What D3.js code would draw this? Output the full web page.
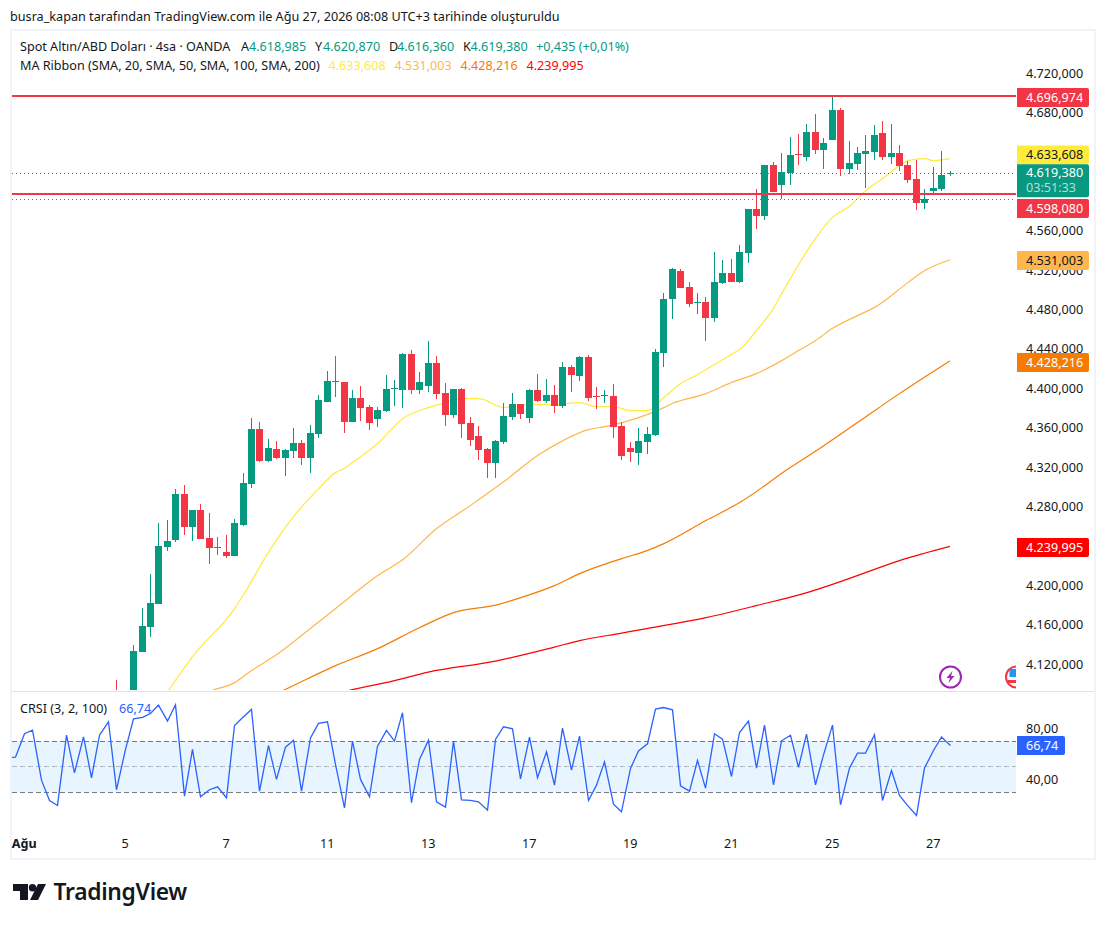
<!DOCTYPE html>
<meta charset="utf-8">
<script src="https://cdn.jsdelivr.net/npm/d3@7/dist/d3.min.js"></script>
<style>
  html, body { margin: 0; background: #fff; }
  svg { display: block; }
  text { font-family: "Noto Sans", "Open Sans", sans-serif; }
</style>
<svg width="1106" height="925"></svg>
<script>
// bar index of the first candle, bars are 4h, 6 per day
var firstBar = 13;
var opens = [
  4090,4060,4080,4133.2,4158.6,4182.0,4239.8,4246.9,4293.6,4260.1,
  4277.4,4248.9,4239.0,4234.7,4230.7,4262.1,4303.8,4359.6,4327.1,4339.3,
  4330.2,4337.3,4345.4,4330.2,4354.5,4387.0,4408.3,4407.3,4366.7,4391.1,
  4381.9,4369.8,4377.9,4399.8,4399.2,4435.7,4399.2,4403.2,4426.6,4396.1,
  4373.8,4400.2,4365.7,4352.5,4339.3,4325.1,4346.4,4371.8,4385.0,4370.8,
  4399.2,4388.0,4394.1,4382.9,4422.5,4413.4,4432.7,4392.5,4392.5,4393.1,
  4362.6,4340.3,4335.2,4346.4,4353.5,4436.8,4491.6,4520.0,4503.8,4487.0,
  4488.5,4472.3,4507.8,4518.0,4508.8,4538.3,4582.9,4575.8,4627.6,4607.3,
  4619.5,4638.2,4635.7,4661.1,4642.8,4653.0,4683.4,4623.6,4628.6,4638.8,
  4640.8,4660.1,4635.7,4639.8,4627.6,4613.4,4589.0,4601.2,4603.2,4618.985
];
var highs = [
  4104.8,4085,4140.3,4177.9,4212.4,4264.2,4267.2,4298.7,4302.7,4277.4,
  4283.4,4274.3,4249.9,4252.0,4268.2,4314.9,4370.8,4366.7,4349.4,4347.4,
  4339.3,4360.6,4348.4,4363.6,4394.1,4418.5,4433.7,4407.3,4399.2,4403.2,
  4384.0,4381.9,4414.4,4409.3,4436.8,4439.8,4417.5,4448.9,4433.7,4406.3,
  4400.2,4401.2,4371.8,4362.6,4340.3,4348.4,4386.0,4396.1,4385.0,4400.2,
  4415.4,4410.3,4404.2,4427.6,4424.6,4433.7,4434.7,4402.2,4399.2,4405.3,
  4366.7,4346.4,4360.6,4361.6,4440.8,4497.7,4523.0,4522.0,4508.8,4497.7,
  4493.6,4539.3,4531.2,4532.2,4546.4,4582.9,4603.2,4627.6,4630.6,4639.8,
  4656.0,4659.1,4669.2,4679.4,4655.0,4696.5,4685.5,4652.0,4645.9,4658.1,
  4668.2,4672.3,4669.2,4647.9,4631.7,4632.7,4603.2,4625.6,4641.8,4620.87
];
var lows = [
  4050,4050,4065,4133.2,4148.4,4182.0,4235.7,4244.9,4252.0,4245.9,
  4247.9,4222.6,4231.7,4228.6,4230.7,4261.1,4299.7,4326.1,4326.1,4329.1,
  4311.9,4330.2,4323.0,4314.9,4350.5,4387.0,4392.1,4355.5,4366.7,4367.7,
  4358.6,4361.6,4376.9,4382.9,4380.9,4395.1,4395.1,4397.2,4390.1,4362.6,
  4370.8,4350.5,4342.3,4328.1,4309.8,4309.8,4344.4,4368.7,4369.8,4365.7,
  4387.0,4386.0,4375.8,4380.9,4397.2,4408.3,4388.0,4379.9,4386.0,4350.5,
  4328.1,4326.1,4323.0,4334.2,4352.5,4422.5,4471.2,4502.7,4483.4,4476.3,
  4448.9,4468.2,4506.8,4508.8,4507.8,4528.1,4562.6,4571.8,4600.2,4593.1,
  4607.3,4627.6,4631.7,4638.8,4623.6,4653.0,4616.4,4618.5,4622.5,4604.3,
  4632.7,4632.7,4628.6,4621.5,4609.3,4581.9,4582.9,4599.2,4601.2,4616.36
];
var closes = [
  4060,4080,4134.2,4159.6,4182.9,4240.8,4245.9,4293.6,4260.1,4277.4,
  4247.9,4238.8,4238.2,4230.7,4264.2,4304.8,4359.6,4327.1,4340.3,4330.2,
  4338.3,4345.4,4330.2,4355.5,4389.0,4408.3,4407.5,4366.7,4391.1,4380.9,
  4365.7,4378.9,4400.2,4400.6,4435.7,4399.2,4407.3,4426.6,4395.1,4373.8,
  4400.2,4364.7,4348.4,4338.3,4325.1,4347.4,4372.8,4385.0,4374.8,4399.2,
  4388.0,4394.1,4382.9,4422.5,4414.4,4432.7,4391.1,4391.6,4393.5,4361.6,
  4332.2,4336.2,4347.4,4354.5,4437.8,4491.6,4522.0,4502.7,4486.5,4488.0,
  4472.3,4508.8,4518.0,4508.8,4539.3,4582.9,4575.8,4627.6,4600.2,4620.5,
  4637.8,4637.3,4661.1,4642.8,4649.9,4683.4,4623.6,4629.6,4639.8,4641.8,
  4658.1,4635.7,4639.8,4626.6,4612.4,4589.0,4593.1,4604.3,4617.5,4619.38
];

var ma20Bars = [18,19,22,27,28,31,34,37,39,40,41,44,47,50,52,54,56,59,62,65,68,70,72,74,76,78,80,82,84,86,87,89,91,92,96,98,100,102,104,106,107,109,110,112];
var ma20 = [4078.4,4091.6,4128.1,4176.9,4190.1,4233.7,4270.3,4298.7,4314.9,4319.0,4325.1,4344.4,4369.8,4380.9,4386.0,4390.1,4390.1,4380.9,4384.0,4384.0,4386.0,4381.9,4381.9,4377.9,4377.9,4391.1,4405.3,4414.4,4424.6,4434.7,4439.8,4459.1,4481.4,4496.6,4552.5,4573.8,4585.0,4601.2,4613.4,4626.6,4631.7,4633.7,4631.7,4633.608];
var ma50Bars = [23,24,27,29,32,36,39,41,42,44,47,51,55,59,63,66,69,71,76,78,79,83,86,89,92,94,96,98,101,103,107,109,112];
var ma50 = [4088.5,4092.6,4101.7,4113.9,4130.2,4156.6,4176.9,4190.6,4197.6,4210.4,4226.6,4258.1,4281.4,4305.8,4332.2,4347.4,4358.6,4361.6,4373.8,4380.9,4385.0,4395.1,4406.3,4415.4,4428.6,4438.8,4448.9,4461.1,4474.3,4482.4,4507.8,4520.0,4531.003];
var ma100Bars = [32,33,39,44,49,53,58,61,65,68,73,76,78,83,87,93,97,101,106,112];
var ma100 = [4090.6,4094.6,4119.0,4136.2,4157.6,4172.8,4180.4,4188.0,4200.2,4212.4,4227.6,4235.7,4242.8,4266.2,4284.5,4320.0,4342.3,4365.7,4395.1,4428.216];
var ma200Bars = [39,40,46,50,58,65,68,73,76,83,89,95,100,106,112];
var ma200 = [4090.6,4092.6,4103.8,4112.4,4123.6,4137.8,4144.4,4152.0,4156.6,4167.7,4179.9,4193.1,4207.3,4225.6,4239.995];

// CRSI, one value per bar from bar 0
var crsi = [
  57.1,57.6,75.9,78.8,39.5,23.6,19.7,74.8,45.3,73.5,
  41.4,74.8,85.3,32.0,63.6,87.6,88.7,91.8,98.4,85.8,
  98.6,27.0,63.6,26.5,32.0,34.3,25.7,82.4,89.2,95.0,
  30.9,66.7,40.1,65.4,70.9,30.9,72.7,84.0,85.3,51.8,
  17.8,70.1,40.1,26.5,66.2,78.5,70.1,92.4,21.8,55.8,
  70.9,22.5,18.4,70.1,24.1,23.6,22.5,16.0,71.4,81.4,
  79.8,40.6,73.3,41.4,61.8,35.6,80.3,47.4,74.1,23.6,
  35.6,53.9,20.7,14.7,48.7,62.5,68.0,95.2,96.5,94.7,
  35.1,30.9,55.0,33.3,75.9,71.7,42.4,76.9,85.8,49.0,
  82.7,35.9,70.4,74.8,49.5,75.6,35.9,59.4,82.7,20.2,
  49.0,60.7,60.7,75.1,23.6,47.1,27.5,19.7,11.8,49.0,
  62.8,73.3,66.74
];

// 4.640, 4.600 and 4.240 sit fully behind the value boxes
var priceTicks = [4720,4680,4560,4520,4480,4440,4400,4360,4320,4280,4200,4160,4120];
var crsiTicks = [80,40];
var crsiLevels = [70,50,30];
var timeBars = [2,14,26,38,50,62,74,86,98,110];
var timeLabels = ["Ağu","5","7","11","13","17","19","21","25","27"];
var lastPrice = 4619.38, supportLine = 4598.08, resistanceLine = 4696.974, dottedRed = 4592.8;

var svg = d3.select("svg");
var up = "#089981", down = "#f23645", ink = "#131722";
var maColors = ["#ffeb3b", "#ffb74d", "#f57c00", "#ff0000"];
var paneLeft = 12, paneRight = 1016, paneTop = 31, mainBottom = 690, crsiTop = 692, crsiBottom = 825;
var labelSize = 12.6;

var x = d3.scaleLinear().domain([0, 112]).range([6.85, 949.52]);
var y = d3.scaleLinear().domain([4120, 4720]).range([664.6, 73.6]);
var yc = d3.scaleLinear().domain([30, 70]).range([792.3, 741.3]);
var col = function(i) { return Math.round(x(i)); };

function trFormat(v, dec) {
  var s = v.toFixed(dec).split(".");
  return s[0].replace(/\B(?=(\d{3})+$)/g, ".") + "," + s[1];
}

// header
svg.append("text").attr("x", 10).attr("y", 20.5).attr("font-size", 12.65).attr("fill", ink)
  .text("busra_kapan tarafından TradingView.com ile Ağu 27, 2026 08:08 UTC+3 tarihinde oluşturuldu");

// frame and pane divider
svg.append("rect").attr("x", 11).attr("y", 30).attr("width", 1084).attr("height", 829)
  .attr("fill", "none").attr("stroke", "#f0f3fa").attr("stroke-width", 2);
svg.append("line").attr("x1", 12).attr("x2", 1094).attr("y1", 691.5).attr("y2", 691.5).attr("stroke", "#e0e3eb");

svg.append("clipPath").attr("id", "main-clip").append("rect")
  .attr("x", paneLeft).attr("y", paneTop).attr("width", paneRight - paneLeft).attr("height", mainBottom - paneTop);
svg.append("clipPath").attr("id", "crsi-clip").append("rect")
  .attr("x", paneLeft).attr("y", crsiTop).attr("width", paneRight - paneLeft).attr("height", crsiBottom - crsiTop);

var main = svg.append("g").attr("clip-path", "url(#main-clip)");

// event icons, the second one runs under the price scale
var bolt = main.append("g").attr("transform", "translate(950.5,677)");
bolt.append("circle").attr("r", 10.5).attr("fill", "#fff").attr("stroke", "#9c27b0").attr("stroke-width", 2);
bolt.append("path").attr("d", "M2,-6 L-4,1 L-0.5,1 L-2,6 L4,-1 L0.5,-1 Z").attr("fill", "#9c27b0");
var flag = main.append("g").attr("transform", "translate(1016.5,677)");
flag.append("circle").attr("r", 10.5).attr("fill", "#fff").attr("stroke", "#f23645").attr("stroke-width", 2);
flag.append("rect").attr("x", -7).attr("y", -8).attr("width", 8).attr("height", 8).attr("fill", "#2196f3");
flag.append("rect").attr("x", -9).attr("y", 3).attr("width", 18).attr("height", 3).attr("fill", "#f23645");

// moving averages under the candles
[[ma200Bars, ma200], [ma100Bars, ma100], [ma50Bars, ma50], [ma20Bars, ma20]].forEach(function(s, n) {
  var line = d3.line().curve(d3.curveMonotoneX)
    .x(function(d, i) { return x(s[0][i]) + 0.5; }).y(function(d) { return y(d); });
  main.append("path").attr("d", line(s[1])).attr("fill", "none")
    .attr("stroke", maColors[3 - n]).attr("stroke-width", 1.2);
});

// dotted price lines
main.append("line").attr("x1", paneLeft).attr("x2", paneRight).attr("y1", Math.round(y(lastPrice)) + 0.5).attr("y2", Math.round(y(lastPrice)) + 0.5)
  .attr("stroke", up).attr("stroke-dasharray", "1 3");
main.append("line").attr("x1", paneLeft).attr("x2", paneRight).attr("y1", Math.round(y(dottedRed)) + 0.5).attr("y2", Math.round(y(dottedRed)) + 0.5)
  .attr("stroke", down).attr("stroke-dasharray", "1 3");

// candles
var bars = d3.range(opens.length).map(function(i) {
  return { i: i + firstBar, o: opens[i], h: highs[i], l: lows[i], c: closes[i] };
});
var candle = main.append("g").selectAll("g").data(bars).enter().append("g")
  .attr("fill", function(d) { return d.c >= d.o ? up : down; });
candle.append("rect")
  .attr("x", function(d) { return col(d.i); })
  .attr("width", 1)
  .attr("y", function(d) { return Math.round(y(d.h)); })
  .attr("height", function(d) { return Math.max(1, Math.round(y(d.l)) - Math.round(y(d.h))); });
candle.append("rect")
  .attr("x", function(d) { return col(d.i) - 3; })
  .attr("width", 7)
  .attr("y", function(d) { return Math.round(y(Math.max(d.o, d.c))); })
  .attr("height", function(d) { return Math.max(1, Math.round(y(Math.min(d.o, d.c))) - Math.round(y(Math.max(d.o, d.c)))); });

// horizontal levels
[resistanceLine, supportLine].forEach(function(v) {
  main.append("line").attr("x1", paneLeft).attr("x2", paneRight).attr("y1", Math.round(y(v))).attr("y2", Math.round(y(v)))
    .attr("stroke", down).attr("stroke-width", 2);
});

// price axis
var priceAxis = d3.axisRight(y).tickValues(priceTicks).tickSize(0).tickPadding(0)
  .tickFormat(function(d) { return trFormat(d, 3); });
var priceG = svg.append("g").attr("transform", "translate(1026,-0.6)").call(priceAxis);
priceG.select(".domain").remove();
priceG.selectAll("text").attr("font-size", labelSize).attr("fill", ink).attr("font-family", '"Noto Sans", sans-serif');

// boxes on the price axis, nudged like the original so they do not collide
var tags = [
  { v: 4696.974, cy: 97.5, bg: down, fg: "#fff" },
  { v: 4633.608, cy: 155, bg: maColors[0], fg: ink },
  { v: 4598.08, cy: 208.5, bg: down, fg: "#fff" },
  { v: 4531.003, cy: 260.5, bg: maColors[1], fg: ink },
  { v: 4428.216, cy: 362.5, bg: maColors[2], fg: "#fff" },
  { v: 4239.995, cy: 547.5, bg: maColors[3], fg: "#fff" }
];
function tag(g, cy, h, w, bg) {
  g.append("path").attr("fill", bg)
    .attr("d", "M1017," + (cy - h / 2) + "H" + (1017 + w - 2) + "q2,0 2,2V" + (cy + h / 2 - 2) + "q0,2 -2,2H1017Z");
}
var tagG = svg.append("g");
tags.forEach(function(t) {
  tag(tagG, t.cy, 19, 72, t.bg);
  tagG.append("text").attr("x", 1026).attr("y", t.cy + 4.4).attr("font-size", labelSize).attr("fill", t.fg)
    .text(trFormat(t.v, 3));
});
tag(tagG, 180.8, 33, 72, up);
tagG.append("text").attr("x", 1026).attr("y", 176.5).attr("font-size", labelSize).attr("fill", "#fff").text(trFormat(lastPrice, 3));
tagG.append("text").attr("x", 1026).attr("y", 191.5).attr("font-size", labelSize).attr("fill", "#fff").attr("fill-opacity", 0.7).text("03:51:33");

// legend
function legend(py, parts) {
  parts.forEach(function(p) {
    svg.append("text").attr("x", p[0]).attr("y", py).attr("font-size", labelSize).attr("fill", p[2] || ink).text(p[1]);
  });
}
legend(50.5, [
  [20, "Spot Altın/ABD Doları · 4sa · OANDA"],
  [241, "A"], [249, trFormat(opens[opens.length - 1], 3), up],
  [315, "Y"], [323, trFormat(highs[highs.length - 1], 3), up],
  [389, "D"], [397, trFormat(lows[lows.length - 1], 3), up],
  [463, "K"], [470.5, trFormat(lastPrice, 3), up],
  [536, "+0,435 (+0,01%)", up]
]);
legend(69.5, [
  [20, "MA Ribbon (SMA, 20, SMA, 50, SMA, 100, SMA, 200)"],
  [328.5, trFormat(4633.608, 3), maColors[0]],
  [394.5, trFormat(4531.003, 3), maColors[1]],
  [460.5, trFormat(4428.216, 3), maColors[2]],
  [526.5, trFormat(4239.995, 3), maColors[3]]
]);

// CRSI pane
var crsiG = svg.append("g").attr("clip-path", "url(#crsi-clip)");
crsiG.append("rect").attr("x", paneLeft).attr("width", paneRight - paneLeft)
  .attr("y", yc(crsiLevels[0])).attr("height", yc(crsiLevels[2]) - yc(crsiLevels[0]))
  .attr("fill", "#2196f3").attr("fill-opacity", 0.1);
crsiLevels.forEach(function(v, i) {
  crsiG.append("line").attr("x1", paneLeft).attr("x2", paneRight)
    .attr("y1", Math.floor(yc(v)) + 0.5).attr("y2", Math.floor(yc(v)) + 0.5)
    .attr("stroke", "#787b86").attr("stroke-opacity", i == 1 ? 0.5 : 1)
    .attr("stroke-dasharray", "5 3");
});
var crsiLine = d3.line().x(function(d, i) { return col(i) + 0.5; }).y(function(d) { return yc(d); });
crsiG.append("path").attr("d", crsiLine(crsi)).attr("fill", "none").attr("stroke", "#2962ff").attr("stroke-width", 1.3);

var crsiAxis = d3.axisRight(yc).tickValues(crsiTicks).tickSize(0).tickPadding(0)
  .tickFormat(function(d) { return trFormat(d, 2); });
var crsiAxisG = svg.append("g").attr("transform", "translate(1026,0)").call(crsiAxis);
crsiAxisG.select(".domain").remove();
crsiAxisG.selectAll("text").attr("font-size", labelSize).attr("fill", ink).attr("font-family", '"Noto Sans", sans-serif');

tag(tagG, 745.5, 19, 48, "#2962ff");
tagG.append("text").attr("x", 1026).attr("y", 749.9).attr("font-size", labelSize).attr("fill", "#fff").text(trFormat(crsi[crsi.length - 1], 2));
legend(712.5, [
  [20, "CRSI (3, 2, 100)"],
  [119, trFormat(crsi[crsi.length - 1], 2), "#2962ff"]
]);

// time axis
var timeAxis = d3.axisBottom(x).tickValues(timeBars).tickSize(0).tickPadding(0)
  .tickFormat(function(d, i) { return timeLabels[i]; });
var timeG = svg.append("g").attr("transform", "translate(0,839)").call(timeAxis);
timeG.select(".domain").remove();
timeG.selectAll("text").attr("font-size", labelSize).attr("fill", ink).attr("font-family", '"Noto Sans", sans-serif')
  .attr("font-weight", function(d, i) { return i == 0 ? 700 : 400; });

// TradingView mark
var logo = svg.append("g").attr("fill", ink);
logo.append("path").attr("d", "M13,884H28V900H20V891H13Z");
logo.append("circle").attr("cx", 32.5).attr("cy", 887.7).attr("r", 3.7);
logo.append("path").attr("d", "M38,884H46L38,900H30Z");
logo.append("text").attr("x", 53.5).attr("y", 899.5).attr("font-size", 22.8).attr("font-weight", 600)
  .attr("font-family", "Inter, sans-serif").attr("letter-spacing", "-0.3").text("TradingView");
</script>
